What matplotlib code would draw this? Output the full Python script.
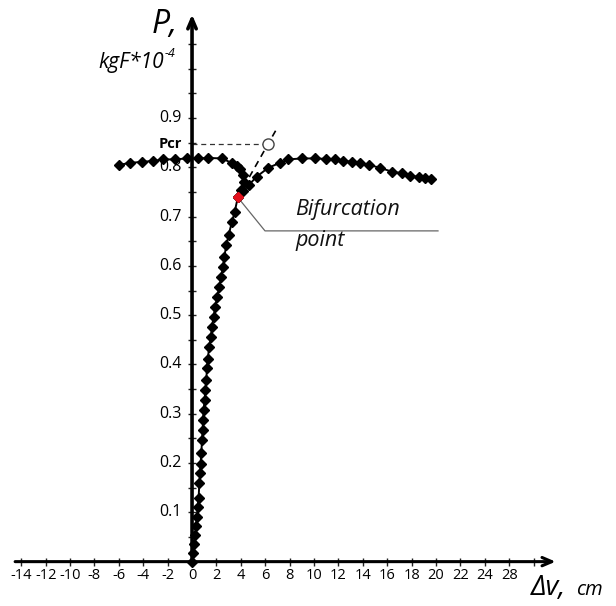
import matplotlib
matplotlib.use("Agg")
import matplotlib.pyplot as plt

# main branch: from the origin up past the bifurcation, then back along the left plateau
main_x = [0.0, 0.12, 0.2, 0.28, 0.34, 0.4, 0.46, 0.54, 0.6, 0.66, 0.7, 0.76, 0.82, 0.87, 0.9, 0.95,
          1.03, 1.09, 1.17, 1.22, 1.3, 1.4, 1.55, 1.64, 1.77, 1.9, 2.05, 2.24, 2.38, 2.54, 2.65,
          2.81, 3.0, 3.28, 3.5, 3.75, 4.05, 4.25, 4.15, 3.93, 3.66, 3.25, 2.43, 1.34, 0.52,
          -0.44, -1.39, -2.35, -3.2, -4.1, -5.08, -5.96]
main_y = [0.0, 0.018, 0.036, 0.055, 0.072, 0.09, 0.111, 0.13, 0.159, 0.179, 0.199, 0.22, 0.247,
          0.267, 0.287, 0.308, 0.328, 0.348, 0.368, 0.392, 0.412, 0.436, 0.456, 0.477, 0.497,
          0.517, 0.537, 0.558, 0.578, 0.598, 0.619, 0.642, 0.663, 0.69, 0.71, 0.739, 0.754,
          0.771, 0.784, 0.796, 0.803, 0.809, 0.818, 0.819, 0.818, 0.818, 0.816, 0.816, 0.813,
          0.811, 0.809, 0.805]

# secondary branch after bifurcation
branch_x = [3.75, 4.2, 4.65, 5.3, 6.25, 7.2, 7.9, 9.0, 10.1, 11.0, 11.7, 12.4, 13.1, 13.8, 14.5,
            15.4, 16.4, 17.2, 17.9, 18.6, 19.1, 19.6]
branch_y = [0.739, 0.752, 0.764, 0.781, 0.799, 0.809, 0.816, 0.818, 0.818, 0.817, 0.816, 0.813,
            0.811, 0.809, 0.805, 0.799, 0.791, 0.788, 0.783, 0.780, 0.778, 0.776]

bif_x, bif_y = 3.75, 0.739
p_cr = 0.848
cr_x = 6.25
tangent_end_x = 6.85

x_label_pos = list(range(-14, 28, 2))
x_labels = ['-14', '-12', '-10', '-8', '-6', '-4', '-2', '0', '2', '4', '6', '8', '10', '12',
            '14', '16', '18', '20', '22', '24', '28']
x_tick_pos = list(range(-14, 30, 2))
y_labels = [0.1, 0.2, 0.3, 0.4, 0.5, 0.6, 0.7, 0.8, 0.9]
y_tick_pos = [0.05 * i for i in range(1, 22)]

W, H = 616, 606
FONT = 'Open Sans'

fig = plt.figure(figsize=(W / 100, H / 100), dpi=100)
ax = fig.add_axes([0, 0, 1, 1])
ax.set_xlim(-15.74, 34.75)
ax.set_ylim(-0.090, 1.1394)
ax.axis('off')


def fpos(x, y):
    return x / W, 1 - y / H


# axes with arrows
ax.annotate('', xy=(29.8, 0), xytext=(-14.5, 0),
            arrowprops=dict(arrowstyle='->,head_length=0.7,head_width=0.3', lw=2.2, color='black',
                            shrinkA=0, shrinkB=0))
ax.annotate('', xy=(0, 1.11), xytext=(0, 0),
            arrowprops=dict(arrowstyle='->,head_length=0.7,head_width=0.3', lw=2.6, color='black',
                            shrinkA=0, shrinkB=0))

# ticks
ax.plot(x_tick_pos, [0] * len(x_tick_pos), ls='none', marker='|', ms=6, mew=1, color='#222222')
ax.plot([0] * len(y_tick_pos), y_tick_pos, ls='none', marker='_', ms=6, mew=1, color='#222222')

for pos, lab in zip(x_label_pos, x_labels):
    ax.text(pos, -0.013, lab, ha='center', va='top', fontsize=10.5, family=FONT, color='black')
for v in y_labels:
    ax.text(-0.85, v, f'{v:.1f}', ha='right', va='center', fontsize=11.5, family=FONT,
            color='black')
ax.text(-0.85, p_cr, 'Pcr', ha='right', va='center', fontsize=10.5, family=FONT,
        fontweight='bold', color='black')

# Pcr construction
ax.plot([0, cr_x], [p_cr, p_cr], ls=(0, (4, 3)), lw=0.9, color='#333333')
slope = (p_cr - bif_y) / (cr_x - bif_x)
ax.plot([bif_x, tangent_end_x], [bif_y, bif_y + slope * (tangent_end_x - bif_x)],
        ls=(0, (4, 3)), lw=1.2, color='black')
ax.plot([cr_x], [p_cr], marker='o', ms=8, mfc='white', mec='#444444', mew=1, zorder=5)

# curves
ax.plot(main_x, main_y, color='black', lw=1.4, marker='D', ms=5, zorder=4)
ax.plot(branch_x, branch_y, color='black', lw=1.4, marker='D', ms=5, zorder=4)
ax.plot([bif_x], [bif_y], marker='D', ms=5.5, color='#e3101c', mec='#e3101c', zorder=6)

# callout
ax.plot([bif_x, 5.98, 20.16], [bif_y, 0.671, 0.671], color='#666666', lw=0.9, zorder=3)
ax.text(8.44, 0.704, 'Bifurcation', ha='left', va='baseline', fontsize=15.5, style='italic',
        family=FONT, color='#111111')
ax.text(8.44, 0.641, 'point', ha='left', va='baseline', fontsize=15.5, style='italic',
        family=FONT, color='#111111')

# axis titles
fig.text(*fpos(152, 33), 'P,', ha='left', va='baseline', fontsize=23, style='italic',
         family=FONT)
fig.text(*fpos(164, 68), 'kgF*10', ha='right', va='baseline', fontsize=15, style='italic',
         family=FONT)
fig.text(*fpos(165, 57), '-4', ha='left', va='baseline', fontsize=9, style='italic',
         family=FONT)
fig.text(*fpos(531, 595), 'Δv,', ha='left', va='baseline', fontsize=20, style='italic',
         family=FONT)
fig.text(*fpos(576, 595), 'cm', ha='left', va='baseline', fontsize=14.5, style='italic',
         family=FONT)

fig.savefig('out.png', dpi=100)
